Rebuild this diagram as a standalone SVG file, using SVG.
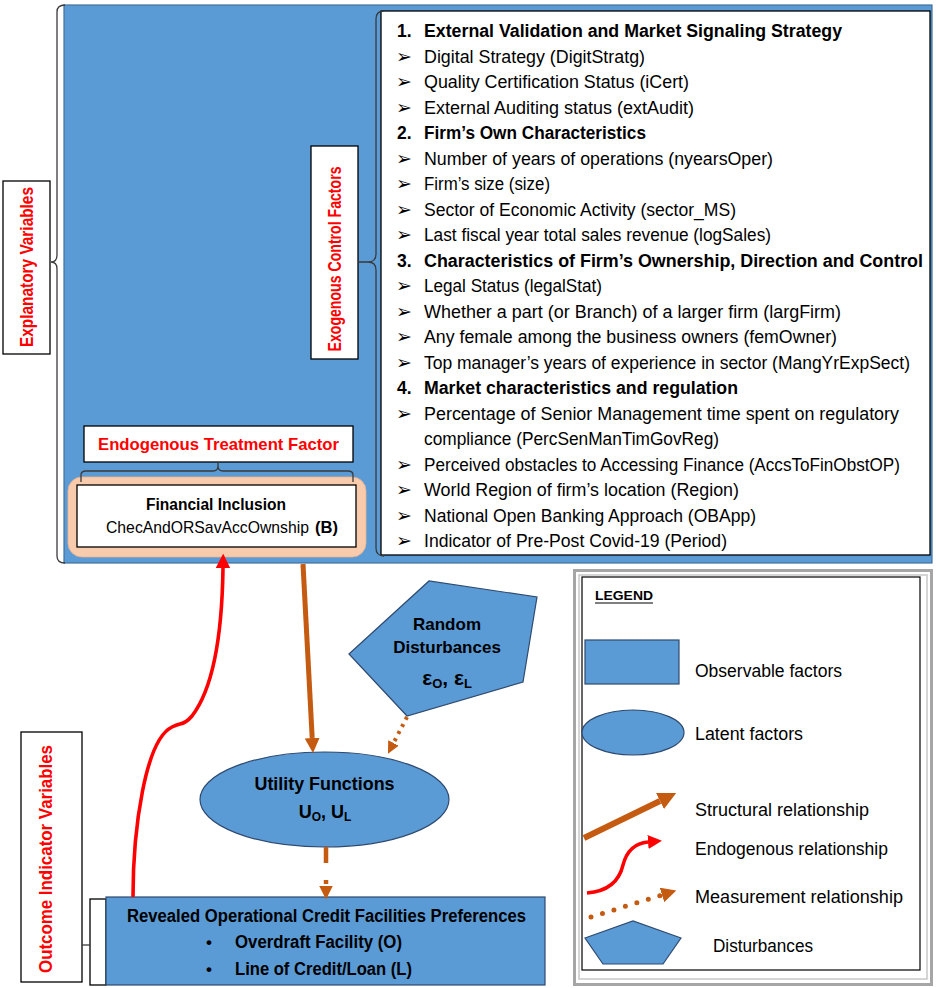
<svg xmlns="http://www.w3.org/2000/svg" width="936" height="988" viewBox="0 0 936 988">
<defs>
<style>
text{font-family:"Liberation Sans",Arial,sans-serif}
.li{font-size:17.5px;fill:#000}
.b{font-weight:bold}
.red{fill:#FF0000;font-weight:bold}
.blue{fill:#5B9BD5;stroke:#2E4A70;stroke-width:1.2}
.wbox{fill:#fff;stroke:#000;stroke-width:1.3}
.brk{fill:none;stroke:#3A3A3A;stroke-width:1.3}
.bul{font-family:"DejaVu Sans",sans-serif;font-size:19px}
.brown{stroke:#C55A11;fill:none}
.redl{stroke:#FF0000;fill:none}
</style>
<marker id="hb" viewBox="0 0 10 10" refX="0" refY="5" markerWidth="3" markerHeight="3" orient="auto" markerUnits="strokeWidth"><path d="M0,0 L10,5 L0,10 z" fill="#C55A11"/></marker>
<marker id="hr" viewBox="0 0 10 10" refX="0" refY="5" markerWidth="4" markerHeight="4" orient="auto" markerUnits="strokeWidth"><path d="M0,0 L10,5 L0,10 z" fill="#FF0000"/></marker>
</defs>
<rect width="936" height="988" fill="#fff"/>

<g id="explanatory-block">
<rect x="64" y="5" width="868" height="558" fill="#5B9BD5" stroke="#41719C" stroke-width="1.2"/>
</g>

<g id="explanatory-label">
<rect x="3" y="181" width="47" height="173" class="wbox"/>
<text class="red" font-size="17.5" transform="translate(33,267) rotate(-90)" text-anchor="middle" textLength="160" lengthAdjust="spacingAndGlyphs">Explanatory Variables</text>
</g>

<g id="exogenous-label">
<rect x="311" y="146" width="47" height="213" class="wbox"/>
<text class="red" font-size="17.5" transform="translate(341,259) rotate(-90)" text-anchor="middle" textLength="185" lengthAdjust="spacingAndGlyphs">Exogenous Control Factors</text>
</g>

<g id="control-factors-list">
<rect x="381" y="11" width="549" height="544" class="wbox" stroke-width="1.5"/>
<text class="li b" x="397" y="37">1.</text>
<text class="li b" x="424" y="37" textLength="418" lengthAdjust="spacingAndGlyphs">External Validation and Market Signaling Strategy</text>
<text class="bul" x="396" y="62.5">➢</text><text class="li" x="424" y="62.5" textLength="221" lengthAdjust="spacingAndGlyphs">Digital Strategy (DigitStratg)</text>
<text class="bul" x="396" y="88">➢</text><text class="li" x="424" y="88" textLength="265" lengthAdjust="spacingAndGlyphs">Quality Certification Status (iCert)</text>
<text class="bul" x="396" y="113.5">➢</text><text class="li" x="424" y="113.5" textLength="270" lengthAdjust="spacingAndGlyphs">External Auditing status (extAudit)</text>
<text class="li b" x="397" y="139">2.</text>
<text class="li b" x="424" y="139" textLength="222" lengthAdjust="spacingAndGlyphs">Firm’s Own Characteristics</text>
<text class="bul" x="396" y="164.5">➢</text><text class="li" x="424" y="164.5" textLength="349" lengthAdjust="spacingAndGlyphs">Number of years of operations (nyearsOper)</text>
<text class="bul" x="396" y="190">➢</text><text class="li" x="424" y="190" textLength="126" lengthAdjust="spacingAndGlyphs">Firm’s size (size)</text>
<text class="bul" x="396" y="215.5">➢</text><text class="li" x="424" y="215.5" textLength="312" lengthAdjust="spacingAndGlyphs">Sector of Economic Activity (sector_MS)</text>
<text class="bul" x="396" y="241">➢</text><text class="li" x="424" y="241" textLength="347" lengthAdjust="spacingAndGlyphs">Last fiscal year total sales revenue (logSales)</text>
<text class="li b" x="397" y="266.5">3.</text>
<text class="li b" x="424" y="266.5" textLength="499" lengthAdjust="spacingAndGlyphs">Characteristics of Firm’s Ownership, Direction and Control</text>
<text class="bul" x="396" y="292">➢</text><text class="li" x="424" y="292" textLength="178" lengthAdjust="spacingAndGlyphs">Legal Status (legalStat)</text>
<text class="bul" x="396" y="317.5">➢</text><text class="li" x="424" y="317.5" textLength="417" lengthAdjust="spacingAndGlyphs">Whether a part (or Branch) of a larger firm (largFirm)</text>
<text class="bul" x="396" y="343">➢</text><text class="li" x="424" y="343" textLength="413" lengthAdjust="spacingAndGlyphs">Any female among the business owners (femOwner)</text>
<text class="bul" x="396" y="368.5">➢</text><text class="li" x="424" y="368.5" textLength="486" lengthAdjust="spacingAndGlyphs">Top manager’s years of experience in sector (MangYrExpSect)</text>
<text class="li b" x="397" y="394">4.</text>
<text class="li b" x="424" y="394" textLength="314" lengthAdjust="spacingAndGlyphs">Market characteristics and regulation</text>
<text class="bul" x="396" y="419.5">➢</text><text class="li" x="424" y="419.5" textLength="475" lengthAdjust="spacingAndGlyphs">Percentage of Senior Management time spent on regulatory</text>
<text class="li" x="424" y="445" textLength="295" lengthAdjust="spacingAndGlyphs">compliance (PercSenManTimGovReg)</text>
<text class="bul" x="396" y="470.5">➢</text><text class="li" x="424" y="470.5" textLength="476" lengthAdjust="spacingAndGlyphs">Perceived obstacles to Accessing Finance (AccsToFinObstOP)</text>
<text class="bul" x="396" y="496">➢</text><text class="li" x="424" y="496" textLength="315" lengthAdjust="spacingAndGlyphs">World Region of firm’s location (Region)</text>
<text class="bul" x="396" y="521.5">➢</text><text class="li" x="424" y="521.5" textLength="332" lengthAdjust="spacingAndGlyphs">National Open Banking Approach (OBApp)</text>
<text class="bul" x="396" y="547">➢</text><text class="li" x="424" y="547" textLength="303" lengthAdjust="spacingAndGlyphs">Indicator of Pre-Post Covid-19 (Period)</text>
</g>

<g id="endogenous-label">
<rect x="84" y="426" width="269" height="36" class="wbox"/>
<text class="red" font-size="17" x="218.5" y="450" text-anchor="middle" textLength="241" lengthAdjust="spacingAndGlyphs">Endogenous Treatment Factor</text>
</g>

<g id="financial-inclusion">
<rect x="68" y="477" width="298" height="80" rx="14" fill="#F8CBAD" stroke="#EDB08C" stroke-width="0.8"/>
<rect x="77" y="485" width="279" height="62" class="wbox"/>
<text class="b" font-size="16" x="216" y="510" text-anchor="middle" textLength="140" lengthAdjust="spacingAndGlyphs">Financial Inclusion</text>
<text font-size="15.7" x="106" y="533" textLength="203" lengthAdjust="spacingAndGlyphs">ChecAndORSavAccOwnship</text>
<text class="b" font-size="16" x="315" y="533" textLength="23" lengthAdjust="spacingAndGlyphs">(B)</text>
</g>

<g id="random-disturbances">
<polygon points="349,654 429,581 537,597 523,682 407,716" class="blue"/>
<text class="b" font-size="17" x="447" y="630" text-anchor="middle">Random</text>
<text class="b" font-size="17" x="447" y="653" text-anchor="middle">Disturbances</text>
<text class="b" font-size="21" x="447" y="685" text-anchor="middle">ε<tspan font-size="13" dy="3">O</tspan><tspan dy="-3">, ε</tspan><tspan font-size="13" dy="3">L</tspan></text>
</g>

<g id="utility-functions">
<ellipse cx="324.5" cy="799.5" rx="124.5" ry="47.5" class="blue"/>
<text class="b" font-size="18" x="324.5" y="790" text-anchor="middle" textLength="140" lengthAdjust="spacingAndGlyphs">Utility Functions</text>
<text class="b" font-size="18" x="325" y="818" text-anchor="middle">U<tspan font-size="12" dy="3">O</tspan><tspan dy="-3">, U</tspan><tspan font-size="12" dy="3">L</tspan></text>
</g>

<g id="outcome-label">
<rect x="21" y="732" width="61" height="250" class="wbox"/>
<text class="red" font-size="17.5" transform="translate(52,859) rotate(-90)" text-anchor="middle" textLength="228" lengthAdjust="spacingAndGlyphs">Outcome Indicator Variables</text>
</g>

<g id="revealed-preferences">
<rect x="90" y="899" width="16" height="86" class="wbox"/>
<rect x="106" y="897" width="439" height="88" class="blue"/>
<text class="b" font-size="18" x="127" y="922" textLength="399" lengthAdjust="spacingAndGlyphs">Revealed Operational Credit Facilities Preferences</text>
<text class="b" font-size="17" x="206" y="948">•</text>
<text class="b" font-size="18" x="235" y="948" textLength="167" lengthAdjust="spacingAndGlyphs">Overdraft Facility (O)</text>
<text class="b" font-size="17" x="206" y="975">•</text>
<text class="b" font-size="18" x="235" y="975" textLength="177" lengthAdjust="spacingAndGlyphs">Line of Credit/Loan (L)</text>
</g>

<g id="connectors">
<path class="brk" d="M65,5 Q57,5 57,12 V255 Q57,262 51,262 M51,262 Q57,262 57,269 V556 Q57,563 65,563"/>
<path class="brk" d="M384,11 Q376,11 376,19 V254 Q376,262 368,262 H358 M368,262 Q376,262 376,270 V548 Q376,556 384,556"/>
<path class="brk" d="M81,482 V475 Q81,471 86,471 H213 Q218,471 218,466 V462 M218,466 Q218,471 223,471 H348 Q353,471 353,475 V482"/>
<path class="brk" d="M82,945 H90"/>
<path class="redl" stroke-width="3.6" d="M133,897 C133,830 145,740 172,727 Q176,725 180,724 Q186,723 192,716 C212,690 222,640 223,568" marker-end="url(#hr)"/>
<path class="brown" stroke-width="5" d="M303,564 L312.2,738" marker-end="url(#hb)"/>
<path class="brown" stroke-width="4" stroke-dasharray="3,5" d="M407,717 L393.5,743" marker-end="url(#hb)"/>
<path class="brown" stroke-width="4.5" stroke-dasharray="16,17,4,100" d="M326,847 L326,886" marker-end="url(#hb)"/>
</g>

<g id="legend">
<rect x="574.5" y="570.5" width="357" height="414" fill="#fff" stroke="#A6A6A6" stroke-width="3"/>
<rect x="579" y="575" width="348" height="404" fill="none" stroke="#C8C8C8" stroke-width="1.5"/>
<rect x="582" y="577" width="338" height="393" fill="none" stroke="#000" stroke-width="1.2"/>
<text class="b" font-size="13" x="595" y="600" textLength="58" lengthAdjust="spacingAndGlyphs">LEGEND</text>
<line x1="595" y1="603" x2="653" y2="603" stroke="#000" stroke-width="1"/>
<rect x="585" y="640" width="94" height="44" class="blue"/>
<text font-size="17.5" x="695" y="677" textLength="147" lengthAdjust="spacingAndGlyphs">Observable factors</text>
<ellipse cx="633" cy="732.5" rx="51" ry="22.5" class="blue"/>
<text font-size="17.5" x="695" y="740" textLength="108" lengthAdjust="spacingAndGlyphs">Latent factors</text>
<path class="brown" stroke-width="6" d="M584,838 L660,801" marker-end="url(#hb)"/>
<text font-size="17.5" x="695" y="816" textLength="174" lengthAdjust="spacingAndGlyphs">Structural relationship</text>
<path class="redl" stroke-width="3.5" d="M587,893 C612,891 620,878 623,865 C627,850 636,843 648,842" marker-end="url(#hr)"/>
<text font-size="17.5" x="695" y="855" textLength="193" lengthAdjust="spacingAndGlyphs">Endogenous relationship</text>
<path class="brown" stroke-width="5" stroke-linecap="round" stroke-dasharray="0,12" d="M591,917 L662,895" marker-end="url(#hb)"/>
<text font-size="17.5" x="695" y="903" textLength="208" lengthAdjust="spacingAndGlyphs">Measurement relationship</text>
<polygon points="585,938 633,921 681,938 663,964 603,964" class="blue"/>
<text font-size="17.5" x="713" y="952" textLength="100" lengthAdjust="spacingAndGlyphs">Disturbances</text>
</g>
</svg>
